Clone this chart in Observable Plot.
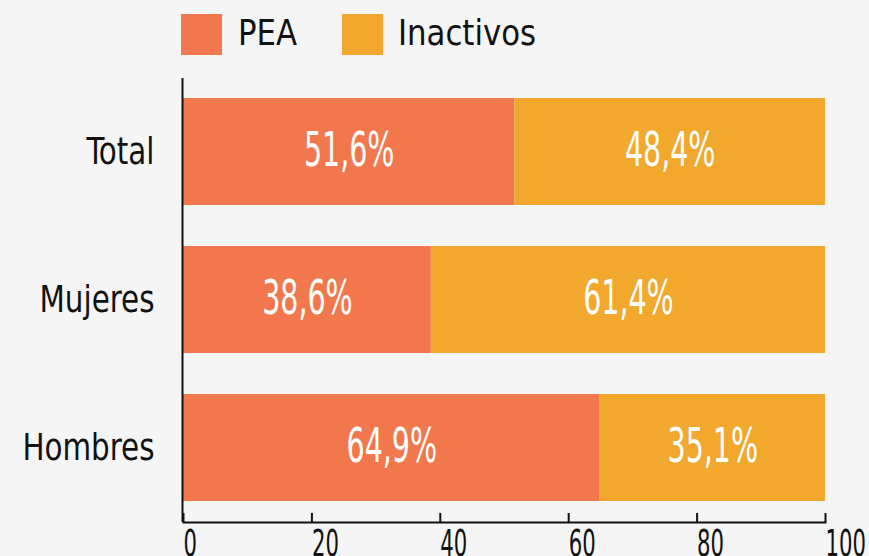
<!DOCTYPE html>
<html>
<head>
<meta charset="utf-8">
<script src="https://cdn.jsdelivr.net/npm/d3@7"></script>
<script src="https://cdn.jsdelivr.net/npm/@observablehq/plot@0.6"></script>
<style>
  html, body { margin: 0; padding: 0; background: #f5f5f5; }
  body { width: 869px; height: 556px; overflow: hidden; font-family: "DejaVu Sans Condensed", "DejaVu Sans", sans-serif; }
  #legend { height: 70px; position: relative; }
  .sw { position: absolute; top: 14px; width: 41px; height: 41px; }
  .lt { position: absolute; top: 10px; font-size: 36px; color: #111; line-height: 46px; transform-origin: left center; }
  #chart svg { display: block; }
</style>
</head>
<body>
<div id="legend"></div>
<div id="chart"></div>
<script>
const categories = ["Total", "Mujeres", "Hombres"];
const series = ["PEA", "Inactivos"];
const peaValues = [51.6, 38.6, 64.9];
const inactivosValues = [48.4, 61.4, 35.1];
const xTicks = [0, 20, 40, 60, 80, 100];
const colors = ["#f3774c", "#f2a72d"];

const data = [];
categories.forEach((c, i) => {
  data.push({cat: c, series: "PEA", value: peaValues[i]});
  data.push({cat: c, series: "Inactivos", value: inactivosValues[i]});
});

// legend
const legend = document.getElementById("legend");
const legendPos = [[181, 238], [342, 398]];
series.forEach((s, i) => {
  const sw = document.createElement("div");
  sw.className = "sw"; sw.style.left = legendPos[i][0] + "px"; sw.style.background = colors[i];
  const t = document.createElement("div");
  t.className = "lt"; t.style.left = legendPos[i][1] + "px"; t.textContent = s;
  t.style.transform = "scaleX(0.95)";
  legend.appendChild(sw); legend.appendChild(t);
});

const fmt = v => v.toFixed(1).replace(".", ",") + "%";

const chart = Plot.plot({
  width: 869,
  height: 486,
  marginTop: 8,
  marginBottom: 34,
  marginLeft: 183,
  marginRight: 44,
  style: {background: "transparent", fontFamily: "'DejaVu Sans Condensed', 'DejaVu Sans', sans-serif", color: "#111"},
  x: {domain: [0, 100], axis: null},
  y: {domain: categories, paddingInner: 0.277, paddingOuter: 0.1385, axis: null},
  color: {domain: series, range: colors},
  marks: [
    Plot.barX(data, Plot.stackX({x: "value", y: "cat", fill: "series", order: series})),
    Plot.textX(data, Plot.stackX({x: "value", y: "cat", z: "series", order: series, text: d => fmt(d.value), fill: "white", fontSize: 48, dy: -1})),
    Plot.axisY({tickSize: 0, tickPadding: 29, fontSize: 38, fill: "#111", label: null}),
    Plot.axisX({ticks: xTicks, tickSize: -9, tickPadding: 16, fontSize: 38, textAnchor: "start", dx: 0, stroke: "#111", strokeWidth: 2, fill: "#111", tickFormat: d => d, label: null}),
    Plot.ruleX([0], {stroke: "#111", strokeWidth: 2, dx: -1}),
    Plot.frame({anchor: "bottom", stroke: "#111", strokeWidth: 2})
  ]
});

// condense glyphs horizontally to mimic the narrow typeface
const squeeze = {"text": 0.66, "y-axis tick label": 0.86, "x-axis tick label": 0.62};
chart.querySelectorAll("g[aria-label]").forEach(g => {
  const s = squeeze[g.getAttribute("aria-label")];
  if (!s) return;
  g.querySelectorAll("text").forEach(t => {
    const tr = t.getAttribute("transform") || "";
    t.setAttribute("transform", tr + ` scale(${s},1)`);
  });
});
document.getElementById("chart").appendChild(chart);
</script>
</body>
</html>
